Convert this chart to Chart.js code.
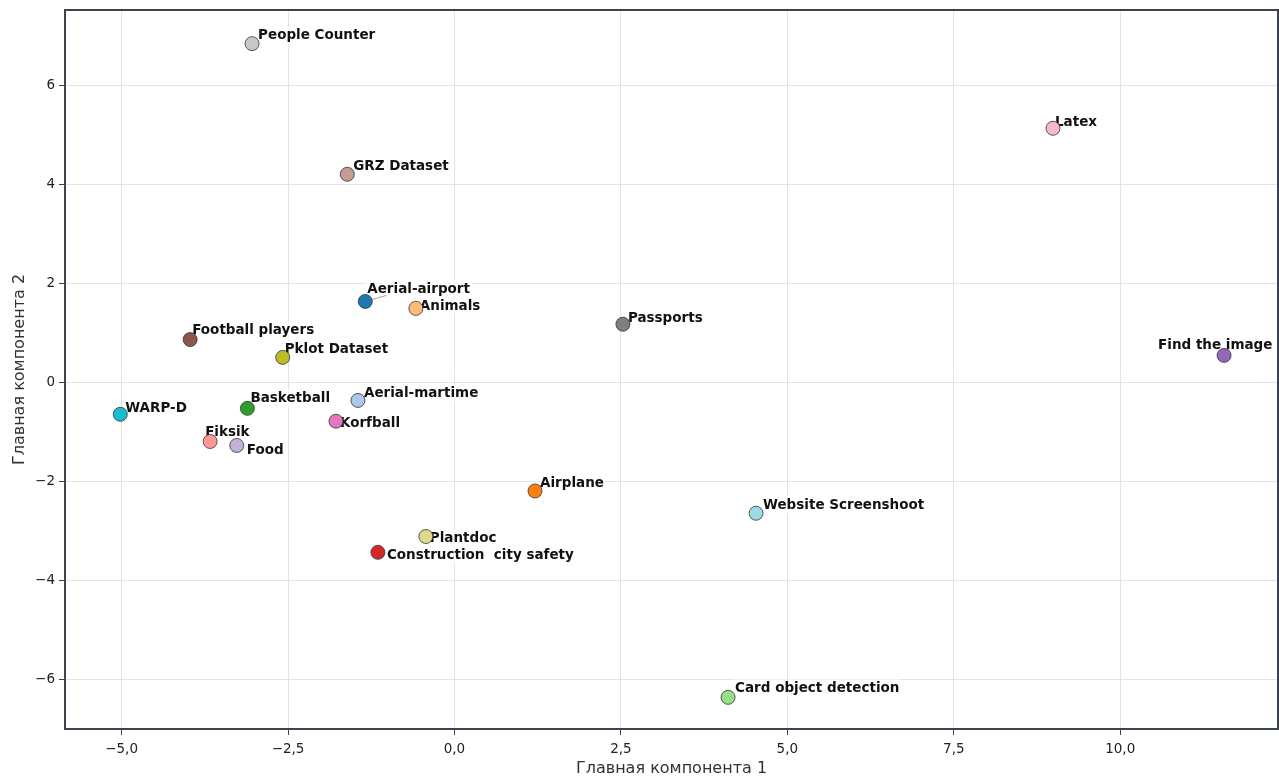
<!DOCTYPE html>
<html>
<head>
<meta charset="utf-8">
<script src="https://cdn.jsdelivr.net/npm/chart.js@4/dist/chart.umd.min.js"></script>
<style>
  body { margin: 0; background: #fff; overflow: hidden; }
</style>
</head>
<body>
<canvas id="pca" width="1279" height="778"></canvas>
<script>
// datasets (alphabetical, tab20 colours)
const names = ['Aerial-airport', 'Aerial-martime', 'Airplane', 'Animals', 'Basketball',
    'Card object detection', 'Construction  city safety', 'Fiksik', 'Find the image', 'Food',
    'Football players', 'GRZ Dataset', 'Korfball', 'Latex', 'Passports',
    'People Counter', 'Pklot Dataset', 'Plantdoc', 'WARP-D', 'Website Screenshoot'];
const pc1 = [-1.34, -1.45, 1.21, -0.58, -3.11, 4.11, -1.15, -3.67, 11.56, -3.27,
    -3.97, -1.61, -1.78, 8.99, 2.53, -3.04, -2.58, -0.43, -5.02, 4.53];
const pc2 = [1.64, -0.36, -2.19, 1.50, -0.52, -6.36, -3.43, -1.19, 0.55, -1.27,
    0.87, 4.21, -0.78, 5.14, 1.18, 6.85, 0.51, -3.11, -0.64, -2.64];
const colors = ['#1f77b4', '#aec7e8', '#ff7f0e', '#ffbb78', '#2ca02c', '#98df8a', '#d62728', '#ff9896',
    '#9467bd', '#c5b0d5', '#8c564b', '#c49c94', '#e377c2', '#f7b6d2', '#7f7f7f', '#c7c7c7',
    '#bcbd22', '#dbdb8d', '#17becf', '#9edae5'];

const xTicks = [-5, -2.5, 0, 2.5, 5, 7.5, 10];
const yTicks = [-6, -4, -2, 0, 2, 4, 6];

// label placement (text left/middle relative to the point, px)
const labelOffsets = {
    'Aerial-airport': [2, -12], 'Animals': [4, -2], 'Football players': [2, -9],
    'Pklot Dataset': [2, -8], 'WARP-D': [5, -6], 'Basketball': [3, -10],
    'Aerial-martime': [6, -7], 'Korfball': [4, 2], 'Fiksik': [-5, -9], 'Food': [10, 5],
    'Airplane': [5, -7], 'Plantdoc': [4, 2], 'Construction  city safety': [9, 3],
    'Passports': [5, -6], 'Latex': [2, -6], 'Find the image': [-66, -10],
    'Website Screenshoot': [7, -8], 'Card object detection': [7, -9],
    'People Counter': [6, -8], 'GRZ Dataset': [6, -8]
};

function fmt(v, digits) {
    return v.toFixed(digits).replace('.', ',').replace('-', '\u2212');
}

const pointLabels = {
    id: 'pointLabels',
    beforeDatasetsDraw(chart) {
        const ctx = chart.ctx;
        const xs = chart.scales.x, ys = chart.scales.y;
        ctx.save();
        ctx.font = 'bold 13.5px "DejaVu Sans"';
        ctx.textBaseline = 'middle';
        names.forEach((n, i) => {
            const px = xs.getPixelForValue(pc1[i]);
            const py = ys.getPixelForValue(pc2[i]);
            const off = labelOffsets[n] || [6, -8];
            const tx = px + off[0], ty = py + off[1];
            const w = ctx.measureText(n).width;
            ctx.fillStyle = 'rgba(255,255,255,0.7)';
            ctx.fillRect(tx - 2, ty - 9, w + 4, 18);
            if (n === 'Aerial-airport') {
                ctx.strokeStyle = '#888';
                ctx.lineWidth = 0.8;
                ctx.beginPath();
                ctx.moveTo(px, py);
                ctx.lineTo(px + 21, py - 6);
                ctx.stroke();
            }
            ctx.fillStyle = '#111';
            ctx.fillText(n, tx, ty);
        });
        ctx.restore();
    },
    afterDraw(chart) {
        const a = chart.chartArea;
        const ctx = chart.ctx;
        ctx.save();
        ctx.strokeStyle = '#3b4450';
        ctx.lineWidth = 2;
        ctx.strokeRect(a.left, a.top, a.right - a.left, a.bottom - a.top);
        ctx.restore();
    }
};

new Chart(document.getElementById('pca'), {
    type: 'scatter',
    data: {
        datasets: names.map((n, i) => ({
            label: n,
            data: [{ x: pc1[i], y: pc2[i] }],
            backgroundColor: colors[i],
            borderColor: '#333',
            borderWidth: 0.8,
            pointRadius: 7,
            pointHoverRadius: 7
        }))
    },
    options: {
        responsive: false,
        animation: false,
        layout: { autoPadding: false, padding: { top: 10, right: 1, left: 0, bottom: 0 } },
        plugins: {
            legend: { display: false },
            tooltip: { enabled: false }
        },
        scales: {
            x: {
                type: 'linear',
                min: -5.85,
                max: 12.37,
                afterBuildTicks: (s) => { s.ticks = xTicks.map(v => ({ value: v })); },
                afterFit: (s) => { s.height = 49; s.paddingLeft = 0; s.paddingRight = 0; },
                border: { display: false },
                grid: { color: '#e3e3e3', tickColor: '#3b4450', tickLength: 6, lineWidth: 1 },
                ticks: {
                    color: '#222', padding: 6,
                    font: { family: 'DejaVu Sans', size: 13.5 },
                    callback: (v) => fmt(v, 1)
                },
                title: {
                    display: true, text: 'Главная компонента 1', color: '#333',
                    font: { family: 'DejaVu Sans', size: 16 }, padding: { top: 0, bottom: 0 }
                }
            },
            y: {
                type: 'linear',
                min: -7.0,
                max: 7.53,
                afterBuildTicks: (s) => { s.ticks = yTicks.map(v => ({ value: v })); },
                afterFit: (s) => { s.width = 65; s.paddingTop = 0; s.paddingBottom = 0; },
                border: { display: false },
                grid: { color: '#e3e3e3', tickColor: '#3b4450', tickLength: 6, lineWidth: 1 },
                ticks: {
                    color: '#222', padding: 4,
                    font: { family: 'DejaVu Sans', size: 13.5 },
                    callback: (v) => fmt(v, 0)
                },
                title: {
                    display: true, text: 'Главная компонента 2', color: '#333',
                    font: { family: 'DejaVu Sans', size: 16 }, padding: { top: 10, bottom: 0 }
                }
            }
        }
    },
    plugins: [pointLabels]
});
</script>
</body>
</html>
